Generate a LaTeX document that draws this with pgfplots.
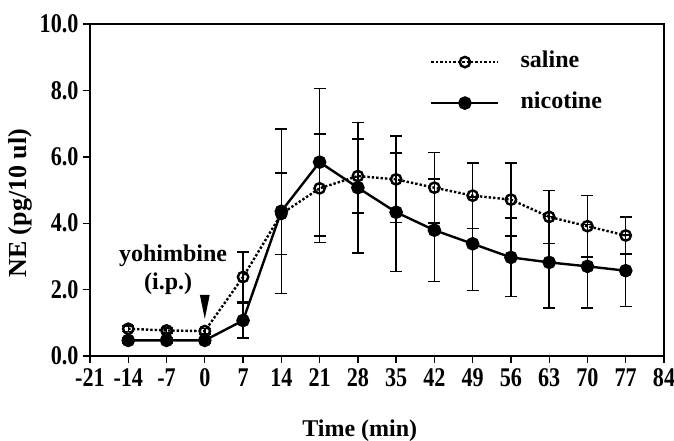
\documentclass[border=0pt]{standalone}
\usepackage{fontspec}
\setmainfont{Liberation Serif}
\newfontfamily\tickfont{Liberation Serif}[FakeStretch=0.82]
\usepackage{pgfplots}
\usepackage{pgfplotstable}
\pgfplotsset{compat=1.18}

% NE levels (pg/10 ul), mean and error, sampled every 7 min
\pgfplotstableread{
t    ne    err
-14  0.47  0.08
-7   0.47  0.08
0    0.47  0.08
7    1.07  0.53
14   4.36  2.47
21   5.84  2.22
28   5.07  1.96
35   4.33  1.78
42   3.79  1.54
49   3.38  1.41
56   2.97  1.18
63   2.82  1.38
70   2.70  1.26
77   2.57  1.08
}\nicotine

\pgfplotstableread{
t    ne    err
-14  0.82  0.08
-7   0.77  0.08
0    0.75  0.08
7    2.38  0.75
14   4.28  1.23
21   5.05  1.63
28   5.42  1.11
35   5.32  1.30
42   5.07  1.06
49   4.83  0.99
56   4.71  1.10
63   4.19  0.80
70   3.91  0.93
77   3.63  0.56
}\saline

\begin{document}
\begin{tikzpicture}
\begin{axis}[
  name=main,
  scale only axis, width=574pt, height=332pt,
  xmin=-21, xmax=84, ymin=0, ymax=10,
  xtick={-21,-14,...,84}, ytick={0,2,...,10},
  tick align=outside, xtick pos=bottom, ytick pos=left,
  major tick length=7pt,
  axis line style={line width=1.4pt},
  every tick/.style={line width=1.4pt, black},
  /pgf/number format/assume math mode=true,
  ticklabel style={font=\tickfont\bfseries\fontsize{27}{27}\selectfont},
  xticklabel style={yshift=-2pt},
  yticklabel style={xshift=-1pt, /pgf/number format/fixed,
    /pgf/number format/fixed zerofill, /pgf/number format/precision=1},
  xlabel={Time (min)},
  ylabel={NE (pg/10 ul)},
  xlabel style={font=\bfseries\fontsize{24}{24}\selectfont,
    at={(axis description cs:0.47,0)}, anchor=base, yshift=-80pt},
  ylabel style={font=\bfseries\fontsize{26}{26}\selectfont,
    at={(axis description cs:-0.1098,0.46)}, anchor=base, rotate=0},
  legend style={at={(axis cs:41.2,9.19)}, anchor=north west, draw=none, fill=none,
    inner sep=0pt, row sep=19pt, font=\bfseries\fontsize{24}{24}\selectfont,
    nodes={inner sep=0pt, text height=16pt, text depth=6pt},
    /tikz/every odd column/.append style={column sep=21pt}},
  legend cell align=left,
  reverse legend,
  legend image code/.code={\draw[mark repeat=2, mark phase=2, #1]
    plot coordinates {(0pt,0pt) (33.5pt,0pt) (67pt,0pt)};},
  error bars/y dir=both, error bars/y explicit,
  error bars/error bar style={solid, line width=1.5pt, black},
  error bars/error mark options={rotate=90, mark size=6pt, line width=1.5pt, black, solid},
]
% nicotine drawn first so the open saline circles sit on top
\addplot[black, line width=2.4pt, mark=*, mark size=5.6pt,
  mark options={solid, fill=black}]
  table[x=t, y=ne, y error=err] {\nicotine};
\addplot[black, line width=2.4pt, dash pattern=on 2.4pt off 2pt, mark=o, mark size=5.2pt,
  mark options={solid, fill=white, line width=2.4pt}]
  table[x=t, y=ne, y error=err] {\saline};
\legend{nicotine, saline}

% injection marker and its label
\fill[black] (axis cs:-0.9,1.84) -- (axis cs:0.9,1.84) -- (axis cs:0,1.12) -- cycle;
\node[anchor=base, font=\bfseries\fontsize{24}{24}\selectfont, inner sep=0pt]
  at (axis cs:-5.8,2.86) {yohimbine};
\node[anchor=base, font=\bfseries\fontsize{24}{24}\selectfont, inner sep=0pt]
  at (axis cs:-6.7,2.0) {(i.p.)};
\end{axis}
\pgfresetboundingbox
\path ([shift={(-90pt,-84pt)}]main.south west) rectangle ([shift={(10pt,24pt)}]main.north east);
\end{tikzpicture}
\end{document}
